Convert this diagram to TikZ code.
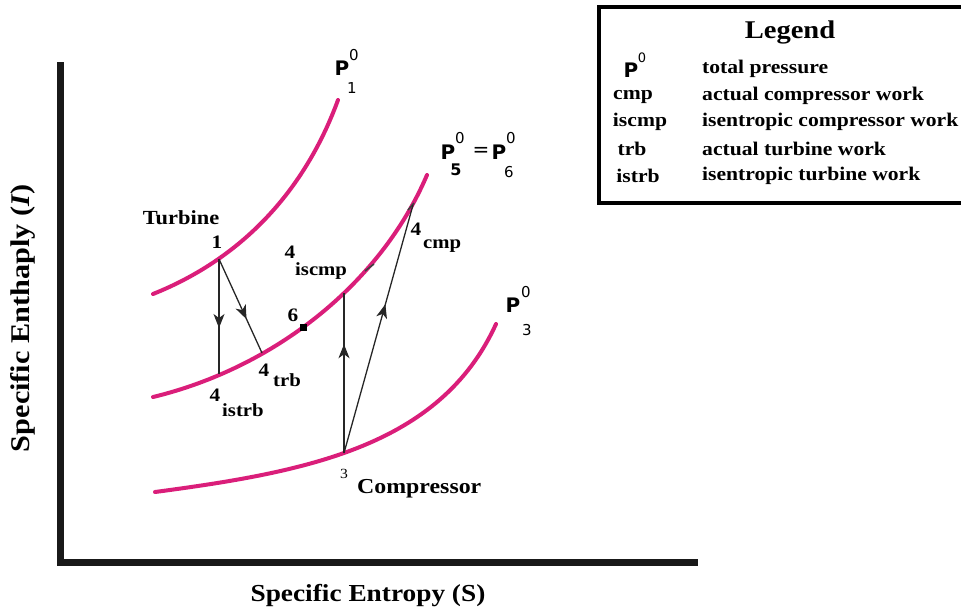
\documentclass[tikz,border=0pt]{standalone}
\usepackage{fontspec}
\setmainfont{Liberation Serif}[FakeStretch=1.12]
\newfontfamily\sansP{DejaVu Sans}
\usetikzlibrary{arrows.meta,decorations.markings}
\definecolor{curvecol}{RGB}{218,30,122}
\tikzset{
  curve/.style={draw=curvecol,line width=4pt,line cap=round},
  axisline/.style={draw=black!90,line width=7pt},
  flow/.style={draw=black!85,line width=1.3pt},
  tick/.style={draw=black!75,line width=1.6pt},
  midarrow/.style={postaction={decorate},decoration={markings,mark=at position #1 with {\arrow{Stealth[length=14pt,width=11pt,inset=4pt]}}}},
  lbl/.style={inner sep=0pt,font=\fontsize{20}{22}\selectfont\bfseries},
  num/.style={inner sep=0pt,font=\fontsize{19}{21}\selectfont\bfseries},
  sub/.style={inner sep=0pt,font=\fontsize{18.5}{20}\selectfont\bfseries},
  pl/.style={inner sep=0pt,font=\fontsize{20}{22}\selectfont\sansP\bfseries},
  ps/.style={inner sep=0pt,font=\fontsize{15}{17}\selectfont\sansP},
  leg/.style={inner sep=0pt,font=\fontsize{19.3}{21}\selectfont\bfseries},
  axlbl/.style={inner sep=0pt,font=\fontsize{24.4}{26}\selectfont\bfseries}
}
\begin{document}
\begin{tikzpicture}[x=1pt,y=-1pt]
\useasboundingbox (0,0) rectangle (961,611);
% axes
\draw[axisline] (60,62) -- (60,562) -- (698,562);
% isobars
\draw[curve] (153,294) .. controls (243,258) and (305,190) .. (338,100);
\draw[curve] (153,397) .. controls (273,368) and (380,285) .. (427,175);
\draw[curve] (155,492) .. controls (305,472) and (440,447) .. (496,324);
% state points
\coordinate (s1) at (219,259);
\coordinate (s4is) at (219,374);
\coordinate (s4trb) at (262,353);
\coordinate (s3) at (344,453);
\coordinate (s4iscmp) at (344,293);
\coordinate (s4cmp) at (413,205);
\node[fill=black,minimum size=7pt,inner sep=0pt] (s6) at (303,327) {};
% small marks on the curve
\draw[tick] (365,271) -- (374,264);
\draw[tick] (408,210) -- (414,203);
% processes
\draw[flow,midarrow=0.6] (s1) -- (s4is);
\draw[flow,midarrow=0.64] (s1) -- (s4trb);
\draw[flow,midarrow=0.68] (s3) -- (s4iscmp);
\draw[flow,midarrow=0.6] (s3) -- (s4cmp);
% labels
\node[lbl] (tTurb) at (181,218) {Turbine};
\node[num] (t1) at (217,242) {1};
\node[num] (t6) at (293,315) {6};
\node[num] (t4a) at (264,370) {4};
\node[sub,anchor=west] (t4as) at (273,380) {trb};
\node[num] (t4b) at (215,395) {4};
\node[sub,anchor=west] (t4bs) at (222,410) {istrb};
\node[num] (t4c) at (290,252) {4};
\node[sub,anchor=west] (t4cs) at (295,271) {iscmp};
\node[num] (t4d) at (416,229) {4};
\node[sub,anchor=west] (t4ds) at (423,246) {cmp};
\node[inner sep=0pt,font=\fontsize{14}{16}\selectfont] (t3) at (344,474) {3};
\node[inner sep=0pt,anchor=west,font=\fontsize{21.3}{23}\selectfont\bfseries] (tComp) at (357,489) {Compressor};
% pressure labels
\node[pl] (P1) at (342,68) {P};
\node[ps] (P1s) at (354,55) {0};
\node[ps] (P1b) at (352,88) {1};
\node[pl] (P5) at (448,152) {P};
\node[ps] (P5s) at (460,138) {0};
\node[ps,font=\fontsize{16}{18}\selectfont\sansP\bfseries] (P5b) at (456,170) {5};
\node[pl,font=\fontsize{20}{22}\selectfont\sansP] (Peq) at (481,152) {=};
\node[pl] (P6) at (499,152) {P};
\node[ps] (P6s) at (511,138) {0};
\node[ps] (P6b) at (509,172) {6};
\node[pl] (P3) at (513,305) {P};
\node[ps] (P3s) at (526,292) {0};
\node[ps] (P3b) at (527,330) {3};
% axis labels
\node[axlbl] (xl) at (368,596) {Specific Entropy (S)};
\node[axlbl,font=\fontsize{27}{29}\selectfont\bfseries,rotate=90] (yl) at (23,318) {Specific Enthaply (\textit{I})};
% legend
\draw[black,line width=4pt] (599,7) rectangle (966,203);
\node[inner sep=0pt,font=\fontsize{25.5}{28}\selectfont\bfseries] (legT) at (790,32) {Legend};
\node[pl,font=\fontsize{20}{22}\selectfont\sansP\bfseries] (lP) at (631,70) {P};
\node[ps,font=\fontsize{13}{15}\selectfont\sansP] (lPs) at (642,58) {0};
\node[leg] (lc) at (633,97) {cmp};
\node[leg] (li) at (640,122) {iscmp};
\node[leg] (lt) at (632,149) {trb};
\node[leg] (lis) at (638,176) {istrb};
\node[leg,anchor=west] (dP) at (702,69) {total pressure};
\node[leg,anchor=west] (dc) at (702,96) {actual compressor work};
\node[leg,anchor=west] (di) at (702,122) {isentropic compressor work};
\node[leg,anchor=west] (dt) at (702,149) {actual turbine work};
\node[leg,anchor=west] (dis) at (702,176) {isentropic turbine work};
\end{tikzpicture}
\end{document}
